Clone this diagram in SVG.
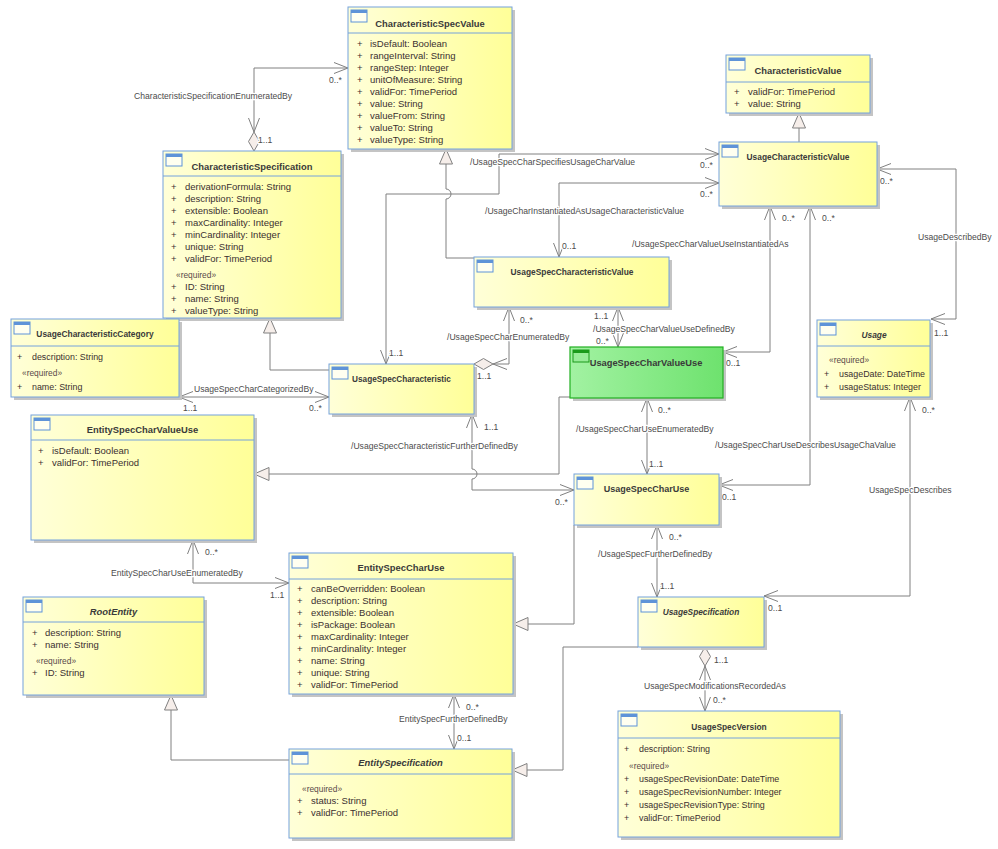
<svg xmlns="http://www.w3.org/2000/svg" width="998" height="849" viewBox="0 0 998 849">
<defs>
<linearGradient id="gy" x1="0" y1="0" x2="1" y2="0"><stop offset="0" stop-color="#ffffd8"/><stop offset="1" stop-color="#ffff98"/></linearGradient>
<linearGradient id="gg" x1="0" y1="0" x2="1" y2="0"><stop offset="0" stop-color="#a2f2a2"/><stop offset="1" stop-color="#6ee26e"/></linearGradient>
<marker id="arr" viewBox="-15 -8 17 16" refX="0" refY="0" markerWidth="17" markerHeight="16" markerUnits="userSpaceOnUse" orient="auto-start-reverse"><path d="M-14,-5.5 L0,0 L-14,5.5" fill="none" stroke="#808080" stroke-width="1"/></marker>
<marker id="tri" viewBox="-17 -8 19 16" refX="0" refY="0" markerWidth="19" markerHeight="16" markerUnits="userSpaceOnUse" orient="auto"><path d="M0,0 L-15,-6.5 L-15,6.5 Z" fill="#f6eeea" stroke="#808080" stroke-width="1"/></marker>
</defs>
<style>
.sh{fill:#c4c4c4}
.bx{fill:url(#gy);stroke:#74a2dc;stroke-width:1}
.bg{fill:url(#gg);stroke:#22b022;stroke-width:1.2}
.sep{stroke:#74a2dc;stroke-width:1}
.ic{fill:#fffff0;stroke:#5e93d8;stroke-width:1}
.icb{fill:#5e93d8}
.icg{fill:#98ec98;stroke:#1a9a1a;stroke-width:1}
.icgb{fill:#1a9a1a}
text{font-family:"Liberation Sans",Arial,sans-serif}
.t{font-weight:bold;font-size:9.4px;fill:#3a3a3a;text-anchor:middle}
.tu{font-weight:bold;font-size:8.4px;fill:#3a3a3a;text-anchor:middle}
.it{font-style:italic}
.a{font-size:9.5px;fill:#3b3030}
.au{font-size:8.9px;fill:#3b3030}
.st{font-size:8.4px;fill:#5a4a4a}
.cn{fill:none;stroke:#808080;stroke-width:1}
.dm{fill:#f6eeea;stroke:#808080;stroke-width:1}
.l{font-size:8.6px;fill:#4c4c4c;stroke:#ffffff;stroke-width:2.5;paint-order:stroke;stroke-linejoin:round}
</style>
<rect width="998" height="849" fill="#ffffff"/>

<g id="connectors">
<path class="cn" d="M254,132 V68 H348" marker-start="url(#arr)" marker-end="url(#arr)"/>
<polygon class="dm" points="254,151 248.5,141.5 254,132 259.5,141.5"/>
<path class="cn" d="M386,364 V194 H499 V154 H719" marker-start="url(#arr)" marker-end="url(#arr)"/>
<path class="cn" d="M559,257 V183 H719" marker-start="url(#arr)" marker-end="url(#arr)"/>
<path class="cn" d="M474,258 H446 V199 A5,5 0 0 0 446,189 V149" marker-end="url(#tri)"/>
<path class="cn" d="M493,364 H509 V307" marker-start="url(#arr)" marker-end="url(#arr)"/>
<polygon class="dm" points="474,364 483.5,358.5 493,364 483.5,369.5"/>
<path class="cn" d="M618,307 V347" marker-start="url(#arr)" marker-end="url(#arr)"/>
<path class="cn" d="M723,352 H770 V206" marker-start="url(#arr)" marker-end="url(#arr)"/>
<path class="cn" d="M719,485 H810 V206" marker-start="url(#arr)" marker-end="url(#arr)"/>
<path class="cn" d="M877,169 H956 V319 H931" marker-start="url(#arr)" marker-end="url(#arr)"/>
<path class="cn" d="M910,397 V596 H764" marker-start="url(#arr)" marker-end="url(#arr)"/>
<path class="cn" d="M799,142 V113" marker-end="url(#tri)"/>
<path class="cn" d="M329,370 H270 V318" marker-end="url(#tri)"/>
<path class="cn" d="M179,397 H329" marker-start="url(#arr)" marker-end="url(#arr)"/>
<path class="cn" d="M647,398 V474" marker-start="url(#arr)" marker-end="url(#arr)"/>
<path class="cn" d="M570,397 H559 V474 H254" marker-end="url(#tri)"/>
<path class="cn" d="M472,414 V469 A5,5 0 0 1 472,479 V490 H574" marker-start="url(#arr)" marker-end="url(#arr)"/>
<path class="cn" d="M193,540 V583 H289" marker-start="url(#arr)" marker-end="url(#arr)"/>
<path class="cn" d="M454,694 V749" marker-start="url(#arr)" marker-end="url(#arr)"/>
<path class="cn" d="M289,760 H171 V695" marker-end="url(#tri)"/>
<path class="cn" d="M574,525 V624 H513" marker-end="url(#tri)"/>
<path class="cn" d="M638,647 H563 V770 H512" marker-end="url(#tri)"/>
<path class="cn" d="M657,525 V597" marker-start="url(#arr)" marker-end="url(#arr)"/>
<path class="cn" d="M705,666 V711" marker-start="url(#arr)" marker-end="url(#arr)"/>
<polygon class="dm" points="705,647 710.5,656.5 705,666 699.5,656.5"/>

<text class="l" x="134" y="99">CharacteristicSpecificationEnumeratedBy</text>
<text class="l" x="258" y="143">1..1</text>
<text class="l" x="329" y="83">0..*</text>
<text class="l" x="470" y="165">/UsageSpecCharSpecifiesUsageCharValue</text>
<text class="l" x="700" y="168">0..*</text>
<text class="l" x="700" y="197">0..*</text>
<text class="l" x="485" y="214">/UsageCharInstantiatedAsUsageCharacteristicValue</text>
<text class="l" x="562" y="249">0..1</text>
<text class="l" x="632" y="247">/UsageSpecCharValueUseInstantiatedAs</text>
<text class="l" x="782" y="221">0..*</text>
<text class="l" x="822" y="221">0..*</text>
<text class="l" x="918" y="240">UsageDescribedBy</text>
<text class="l" x="880" y="184">0..*</text>
<text class="l" x="934" y="336">1..1</text>
<text class="l" x="726" y="366">0..1</text>
<text class="l" x="447" y="340">/UsageSpecCharEnumeratedBy</text>
<text class="l" x="520" y="323">0..*</text>
<text class="l" x="477" y="379">1..1</text>
<text class="l" x="594" y="319">1..1</text>
<text class="l" x="593" y="332">/UsageSpecCharValueUseDefinedBy</text>
<text class="l" x="596" y="344">0..*</text>
<text class="l" x="389" y="356">1..1</text>
<text class="l" x="194" y="392">UsageSpecCharCategorizedBy</text>
<text class="l" x="183" y="411">1..1</text>
<text class="l" x="309" y="411">0..*</text>
<text class="l" x="484" y="430">1..1</text>
<text class="l" x="351" y="449">/UsageSpecCharacteristicFurtherDefinedBy</text>
<text class="l" x="555" y="505">0..*</text>
<text class="l" x="576" y="432">/UsageSpecCharUseEnumeratedBy</text>
<text class="l" x="658" y="413">0..*</text>
<text class="l" x="649" y="467">1..1</text>
<text class="l" x="722" y="500">0..1</text>
<text class="l" x="715" y="448">/UsageSpecCharUseDescribesUsageChaValue</text>
<text class="l" x="869" y="493">UsageSpecDescribes</text>
<text class="l" x="922" y="413">0..*</text>
<text class="l" x="768" y="611">0..1</text>
<text class="l" x="669" y="540">0..*</text>
<text class="l" x="598" y="557">/UsageSpecFurtherDefinedBy</text>
<text class="l" x="660" y="589">1..1</text>
<text class="l" x="714" y="663">1..1</text>
<text class="l" x="644" y="689">UsageSpecModificationsRecordedAs</text>
<text class="l" x="713" y="703">0..*</text>
<text class="l" x="111" y="576">EntitySpecCharUseEnumeratedBy</text>
<text class="l" x="205" y="555">0..*</text>
<text class="l" x="270" y="598">1..1</text>
<text class="l" x="399" y="722">EntitySpecFurtherDefinedBy</text>
<text class="l" x="466" y="710">0..*</text>
<text class="l" x="457" y="741">0..1</text>
</g>

<g id="CharacteristicSpecValue">
<rect class="sh" x="351" y="10" width="164" height="142"/>
<rect class="bx" x="348" y="7" width="164" height="142"/>
<rect class="ic" x="351" y="10" width="16" height="12"/><rect class="icb" x="351" y="10" width="16" height="3"/>
<line class="sep" x1="348" y1="33" x2="512" y2="33"/>
<text class="t" x="430" y="26.5">CharacteristicSpecValue</text>
<g class="a">
<text x="357" y="47.3">+</text><text x="370" y="47.3">isDefault: Boolean</text>
<text x="357" y="59.3">+</text><text x="370" y="59.3">rangeInterval: String</text>
<text x="357" y="71.3">+</text><text x="370" y="71.3">rangeStep: Integer</text>
<text x="357" y="83.3">+</text><text x="370" y="83.3">unitOfMeasure: String</text>
<text x="357" y="95.3">+</text><text x="370" y="95.3">validFor: TimePeriod</text>
<text x="357" y="107.3">+</text><text x="370" y="107.3">value: String</text>
<text x="357" y="119.3">+</text><text x="370" y="119.3">valueFrom: String</text>
<text x="357" y="131.3">+</text><text x="370" y="131.3">valueTo: String</text>
<text x="357" y="143.3">+</text><text x="370" y="143.3">valueType: String</text>
</g>
</g>

<g id="CharacteristicSpecification">
<rect class="sh" x="166" y="154" width="178" height="167"/>
<rect class="bx" x="163" y="151" width="178" height="167"/>
<rect class="ic" x="166" y="154" width="16" height="12"/><rect class="icb" x="166" y="154" width="16" height="3"/>
<line class="sep" x1="163" y1="176" x2="341" y2="176"/>
<text class="t" x="252" y="169.5">CharacteristicSpecification</text>
<g class="a">
<text x="171" y="190.3">+</text><text x="185" y="190.3">derivationFormula: String</text>
<text x="171" y="202.3">+</text><text x="185" y="202.3">description: String</text>
<text x="171" y="214.3">+</text><text x="185" y="214.3">extensible: Boolean</text>
<text x="171" y="226.3">+</text><text x="185" y="226.3">maxCardinality: Integer</text>
<text x="171" y="238.3">+</text><text x="185" y="238.3">minCardinality: Integer</text>
<text x="171" y="250.3">+</text><text x="185" y="250.3">unique: String</text>
<text x="171" y="262.3">+</text><text x="185" y="262.3">validFor: TimePeriod</text>
<text x="171" y="290.3">+</text><text x="185" y="290.3">ID: String</text>
<text x="171" y="302.3">+</text><text x="185" y="302.3">name: String</text>
<text x="171" y="314.3">+</text><text x="185" y="314.3">valueType: String</text>
</g>
<text class="st" x="176" y="278">«required»</text>
</g>

<g id="UsageCharacteristicCategory">
<rect class="sh" x="14" y="322" width="168" height="78"/>
<rect class="bx" x="11" y="319" width="168" height="78"/>
<rect class="ic" x="14" y="322" width="16" height="12"/><rect class="icb" x="14" y="322" width="16" height="3"/>
<line class="sep" x1="11" y1="346" x2="179" y2="346"/>
<text class="tu" x="95" y="337">UsageCharacteristicCategory</text>
<g class="au">
<text x="17" y="360.2">+</text><text x="32" y="360.2">description: String</text>
<text x="17" y="390.2">+</text><text x="32" y="390.2">name: String</text>
</g>
<text class="st" x="22" y="376">«required»</text>
</g>

<g id="CharacteristicValue">
<rect class="sh" x="729" y="58" width="144" height="58"/>
<rect class="bx" x="726" y="55" width="144" height="58"/>
<rect class="ic" x="729" y="58" width="16" height="12"/><rect class="icb" x="729" y="58" width="16" height="3"/>
<line class="sep" x1="726" y1="82" x2="870" y2="82"/>
<text class="t" x="798" y="74.3">CharacteristicValue</text>
<g class="a">
<text x="734" y="95.3">+</text><text x="748" y="95.3">validFor: TimePeriod</text>
<text x="734" y="107.3">+</text><text x="748" y="107.3">value: String</text>
</g>
</g>

<g id="UsageCharacteristicValue">
<rect class="sh" x="722" y="145" width="158" height="64"/>
<rect class="bx" x="719" y="142" width="158" height="64"/>
<rect class="ic" x="722" y="145" width="16" height="12"/><rect class="icb" x="722" y="145" width="16" height="3"/>
<text class="tu" x="798" y="160">UsageCharacteristicValue</text>
</g>

<g id="UsageSpecCharacteristicValue">
<rect class="sh" x="477" y="260" width="195" height="50"/>
<rect class="bx" x="474" y="257" width="195" height="50"/>
<rect class="ic" x="477" y="260" width="16" height="12"/><rect class="icb" x="477" y="260" width="16" height="3"/>
<text class="tu" x="572" y="275">UsageSpecCharacteristicValue</text>
</g>

<g id="UsageSpecCharValueUse">
<rect class="sh" x="573" y="350" width="153" height="51"/>
<rect class="bg" x="570" y="347" width="153" height="51"/>
<rect class="icg" x="573" y="350" width="16" height="12"/><rect class="icgb" x="573" y="350" width="16" height="3"/>
<text class="t" x="646" y="365.5" style="font-size:9.3px">UsageSpecCharValueUse</text>
</g>

<g id="UsageSpecCharacteristic">
<rect class="sh" x="332" y="367" width="145" height="50"/>
<rect class="bx" x="329" y="364" width="145" height="50"/>
<rect class="ic" x="332" y="367" width="16" height="12"/><rect class="icb" x="332" y="367" width="16" height="3"/>
<text class="tu" x="401.5" y="382" style="font-size:8.2px">UsageSpecCharacteristic</text>
</g>

<g id="Usage">
<rect class="sh" x="820" y="323" width="113" height="77"/>
<rect class="bx" x="817" y="320" width="113" height="77"/>
<rect class="ic" x="820" y="323" width="16" height="12"/><rect class="icb" x="820" y="323" width="16" height="3"/>
<line class="sep" x1="817" y1="346" x2="930" y2="346"/>
<text class="tu it" x="874" y="338">Usage</text>
<text class="st" x="829" y="363">«required»</text>
<g class="au">
<text x="824" y="377.2">+</text><text x="839" y="377.2">usageDate: DateTime</text>
<text x="824" y="390.2">+</text><text x="839" y="390.2">usageStatus: Integer</text>
</g>
</g>

<g id="EntitySpecCharValueUse">
<rect class="sh" x="34" y="418" width="223" height="125"/>
<rect class="bx" x="31" y="415" width="223" height="125"/>
<rect class="ic" x="34" y="418" width="16" height="12"/><rect class="icb" x="34" y="418" width="16" height="3"/>
<line class="sep" x1="31" y1="440" x2="254" y2="440"/>
<text class="t" x="142.5" y="433.3">EntitySpecCharValueUse</text>
<g class="a">
<text x="38" y="454.3">+</text><text x="52" y="454.3">isDefault: Boolean</text>
<text x="38" y="466.3">+</text><text x="52" y="466.3">validFor: TimePeriod</text>
</g>
</g>

<g id="UsageSpecCharUse">
<rect class="sh" x="577" y="477" width="145" height="51"/>
<rect class="bx" x="574" y="474" width="145" height="51"/>
<rect class="ic" x="577" y="477" width="16" height="12"/><rect class="icb" x="577" y="477" width="16" height="3"/>
<text class="t" x="646.5" y="492" style="font-size:9px">UsageSpecCharUse</text>
</g>

<g id="EntitySpecCharUse">
<rect class="sh" x="292" y="556" width="224" height="141"/>
<rect class="bx" x="289" y="553" width="224" height="141"/>
<rect class="ic" x="292" y="556" width="16" height="12"/><rect class="icb" x="292" y="556" width="16" height="3"/>
<line class="sep" x1="289" y1="579" x2="513" y2="579"/>
<text class="t" x="401" y="570.5">EntitySpecCharUse</text>
<g class="a">
<text x="297" y="592.3">+</text><text x="311" y="592.3">canBeOverridden: Boolean</text>
<text x="297" y="604.3">+</text><text x="311" y="604.3">description: String</text>
<text x="297" y="616.3">+</text><text x="311" y="616.3">extensible: Boolean</text>
<text x="297" y="628.3">+</text><text x="311" y="628.3">isPackage: Boolean</text>
<text x="297" y="640.3">+</text><text x="311" y="640.3">maxCardinality: Integer</text>
<text x="297" y="652.3">+</text><text x="311" y="652.3">minCardinality: Integer</text>
<text x="297" y="664.3">+</text><text x="311" y="664.3">name: String</text>
<text x="297" y="676.3">+</text><text x="311" y="676.3">unique: String</text>
<text x="297" y="688.3">+</text><text x="311" y="688.3">validFor: TimePeriod</text>
</g>
</g>

<g id="RootEntity">
<rect class="sh" x="26" y="600" width="181" height="98"/>
<rect class="bx" x="23" y="597" width="181" height="98"/>
<rect class="ic" x="26" y="600" width="16" height="12"/><rect class="icb" x="26" y="600" width="16" height="3"/>
<line class="sep" x1="23" y1="622" x2="204" y2="622"/>
<text class="t it" x="113.5" y="614.5">RootEntity</text>
<g class="a">
<text x="32" y="636.3">+</text><text x="45" y="636.3">description: String</text>
<text x="32" y="648.3">+</text><text x="45" y="648.3">name: String</text>
<text x="32" y="676.3">+</text><text x="45" y="676.3">ID: String</text>
</g>
<text class="st" x="36" y="664">«required»</text>
</g>

<g id="UsageSpecification">
<rect class="sh" x="641" y="600" width="126" height="50"/>
<rect class="bx" x="638" y="597" width="126" height="50"/>
<rect class="ic" x="641" y="600" width="16" height="12"/><rect class="icb" x="641" y="600" width="16" height="3"/>
<text class="tu it" x="701" y="615" style="font-size:8.3px">UsageSpecification</text>
</g>

<g id="UsageSpecVersion">
<rect class="sh" x="621" y="714" width="222" height="126"/>
<rect class="bx" x="618" y="711" width="222" height="126"/>
<rect class="ic" x="621" y="714" width="16" height="12"/><rect class="icb" x="621" y="714" width="16" height="3"/>
<line class="sep" x1="618" y1="738" x2="840" y2="738"/>
<text class="tu" x="729" y="730">UsageSpecVersion</text>
<g class="au">
<text x="624" y="752.2">+</text><text x="639" y="752.2">description: String</text>
<text x="624" y="782.2">+</text><text x="639" y="782.2">usageSpecRevisionDate: DateTime</text>
<text x="624" y="795.2">+</text><text x="639" y="795.2">usageSpecRevisionNumber: Integer</text>
<text x="624" y="808.2">+</text><text x="639" y="808.2">usageSpecRevisionType: String</text>
<text x="624" y="821.2">+</text><text x="639" y="821.2">validFor: TimePeriod</text>
</g>
<text class="st" x="629" y="769">«required»</text>
</g>

<g id="EntitySpecification">
<rect class="sh" x="292" y="752" width="223" height="89"/>
<rect class="bx" x="289" y="749" width="223" height="89"/>
<rect class="ic" x="292" y="752" width="16" height="12"/><rect class="icb" x="292" y="752" width="16" height="3"/>
<line class="sep" x1="289" y1="774" x2="512" y2="774"/>
<text class="t it" x="400.5" y="766.3">EntitySpecification</text>
<text class="st" x="302" y="792">«required»</text>
<g class="a">
<text x="297" y="804.3">+</text><text x="311" y="804.3">status: String</text>
<text x="297" y="816.3">+</text><text x="311" y="816.3">validFor: TimePeriod</text>
</g>
</g>
</svg>
